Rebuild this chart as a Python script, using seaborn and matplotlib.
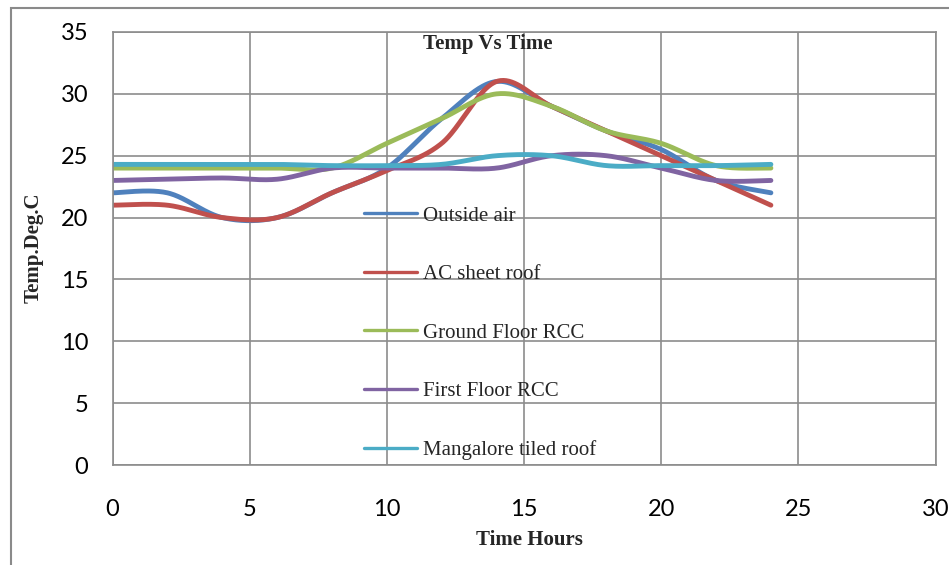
import numpy as np
import pandas as pd
import matplotlib
matplotlib.use("Agg")
import matplotlib.pyplot as plt
import seaborn as sns
from matplotlib.patches import Rectangle

# ---- data ----
hours = [0, 2, 4, 6, 8, 10, 12, 14, 16, 18, 20, 22, 24]
outside_air = [22, 22, 20, 20, 22, 24, 28, 31, 29, 27, 25.5, 23, 22]
ac_sheet_roof = [21, 21, 20, 20, 22, 23.8, 26, 31, 29, 27, 25, 23, 21]
ground_floor_rcc = [24, 24, 24, 24, 24, 26, 28, 30, 29, 27, 26, 24.2, 24]
first_floor_rcc = [23, 23.1, 23.2, 23.1, 24, 24, 24, 24, 25, 25, 24, 23, 23]
mangalore_tiled = [24.3, 24.3, 24.3, 24.3, 24.2, 24.2, 24.3, 25, 25, 24.2, 24.2, 24.2, 24.3]

series_names = ["Outside air", "AC sheet roof", "Ground Floor RCC",
                "First Floor RCC", "Mangalore tiled roof"]
series_values = [outside_air, ac_sheet_roof, ground_floor_rcc,
                 first_floor_rcc, mangalore_tiled]
colors = ["#4F81BD", "#C0504D", "#9BBB59", "#8064A2", "#4BACC6"]

x_ticks = [0, 5, 10, 15, 20, 25, 30]
y_ticks = [0, 5, 10, 15, 20, 25, 30, 35]


def smooth_path(xs, ys, n=40):
    """Excel-style smoothed line (Catmull-Rom Bezier rendering of the points)."""
    P = np.column_stack([xs, ys]).astype(float)
    P = np.vstack([P[0], P, P[-1]])
    out = []
    t = np.linspace(0, 1, n, endpoint=False)
    for i in range(1, len(P) - 2):
        p0, p1, p2, p3 = P[i - 1], P[i], P[i + 1], P[i + 2]
        c1 = p1 + (p2 - p0) / 6.0
        c2 = p2 - (p3 - p1) / 6.0
        tt = t[:, None]
        seg = ((1 - tt) ** 3) * p1 + 3 * ((1 - tt) ** 2) * tt * c1 \
            + 3 * (1 - tt) * tt ** 2 * c2 + tt ** 3 * p2
        out.append(seg)
    out.append(P[-2][None, :])
    return np.vstack(out)


sns.set_style("white")
plt.rcParams["font.family"] = ["Lato", "DejaVu Sans"]

fig = plt.figure(figsize=(9.49, 5.65), dpi=100)
L, R, B, T = 112.5 / 949, 935.5 / 949, 1 - 465 / 565, 1 - 32 / 565
ax = fig.add_axes([L, B, R - L, T - B])

# outer chart frame
fig.patches.append(Rectangle((11 / 949, -0.05), 1.2, 1 - 8 / 565 + 0.05,
                             transform=fig.transFigure, fill=False,
                             edgecolor="#8a8a8a", linewidth=1.5))

for name, vals, col in zip(series_names, series_values, colors):
    pts = smooth_path(hours, vals)
    df = pd.DataFrame({"Time": pts[:, 0], "Temp": pts[:, 1]})
    sns.lineplot(data=df, x="Time", y="Temp", color=col, linewidth=3.5,
                 estimator=None, sort=False, label=name, ax=ax,
                 solid_capstyle="round")

ax.set_xlim(0, 30)
ax.set_ylim(0, 35)
ax.set_xticks(x_ticks)
ax.set_yticks(y_ticks)
ax.set_xticklabels([str(v) for v in x_ticks])
ax.set_yticklabels([str(v) for v in y_ticks])

grid_col = "#8c8c8c"
ax.grid(True, color=grid_col, linewidth=1.2)
ax.set_axisbelow(True)
for s in ax.spines.values():
    s.set_color(grid_col)
    s.set_linewidth(1.2)
ax.tick_params(axis="both", direction="out", length=6.5, width=1.2,
               color=grid_col, labelsize=17, labelcolor="black")
ax.tick_params(axis="y", pad=11)
ax.tick_params(axis="x", pad=18)

serif = ["Liberation Serif", "DejaVu Serif"]
ax.set_xlabel("Time Hours", fontsize=15, fontweight="bold", family=serif)
ax.xaxis.set_label_coords((529.5 - 112.5) / 823, (465 - 540) / 433)
ax.xaxis.label.set_va("center")
ax.set_ylabel("Temp.Deg.C", fontsize=15, fontweight="bold", family=serif)
ax.yaxis.set_label_coords((34 - 112.5) / 823, (465 - 248) / 433)
ax.yaxis.label.set_va("center")

ax.set_title("Temp Vs Time", fontsize=15, fontweight="bold", family=serif,
             x=(487.5 - 112.5) / 823, y=(465 - 48.7) / 433, pad=0,
             va="baseline")

leg = ax.legend(loc="upper left",
                bbox_to_anchor=((364 - 112.5) / 823, (465 - 206) / 433),
                frameon=False, borderpad=0, borderaxespad=0,
                handlelength=2.55, handletextpad=0.26, labelspacing=1.87,
                prop={"family": serif, "size": 15})
for ln in leg.get_lines():
    ln.set_linewidth(2.4)

fig.savefig("out.png", dpi=100)
